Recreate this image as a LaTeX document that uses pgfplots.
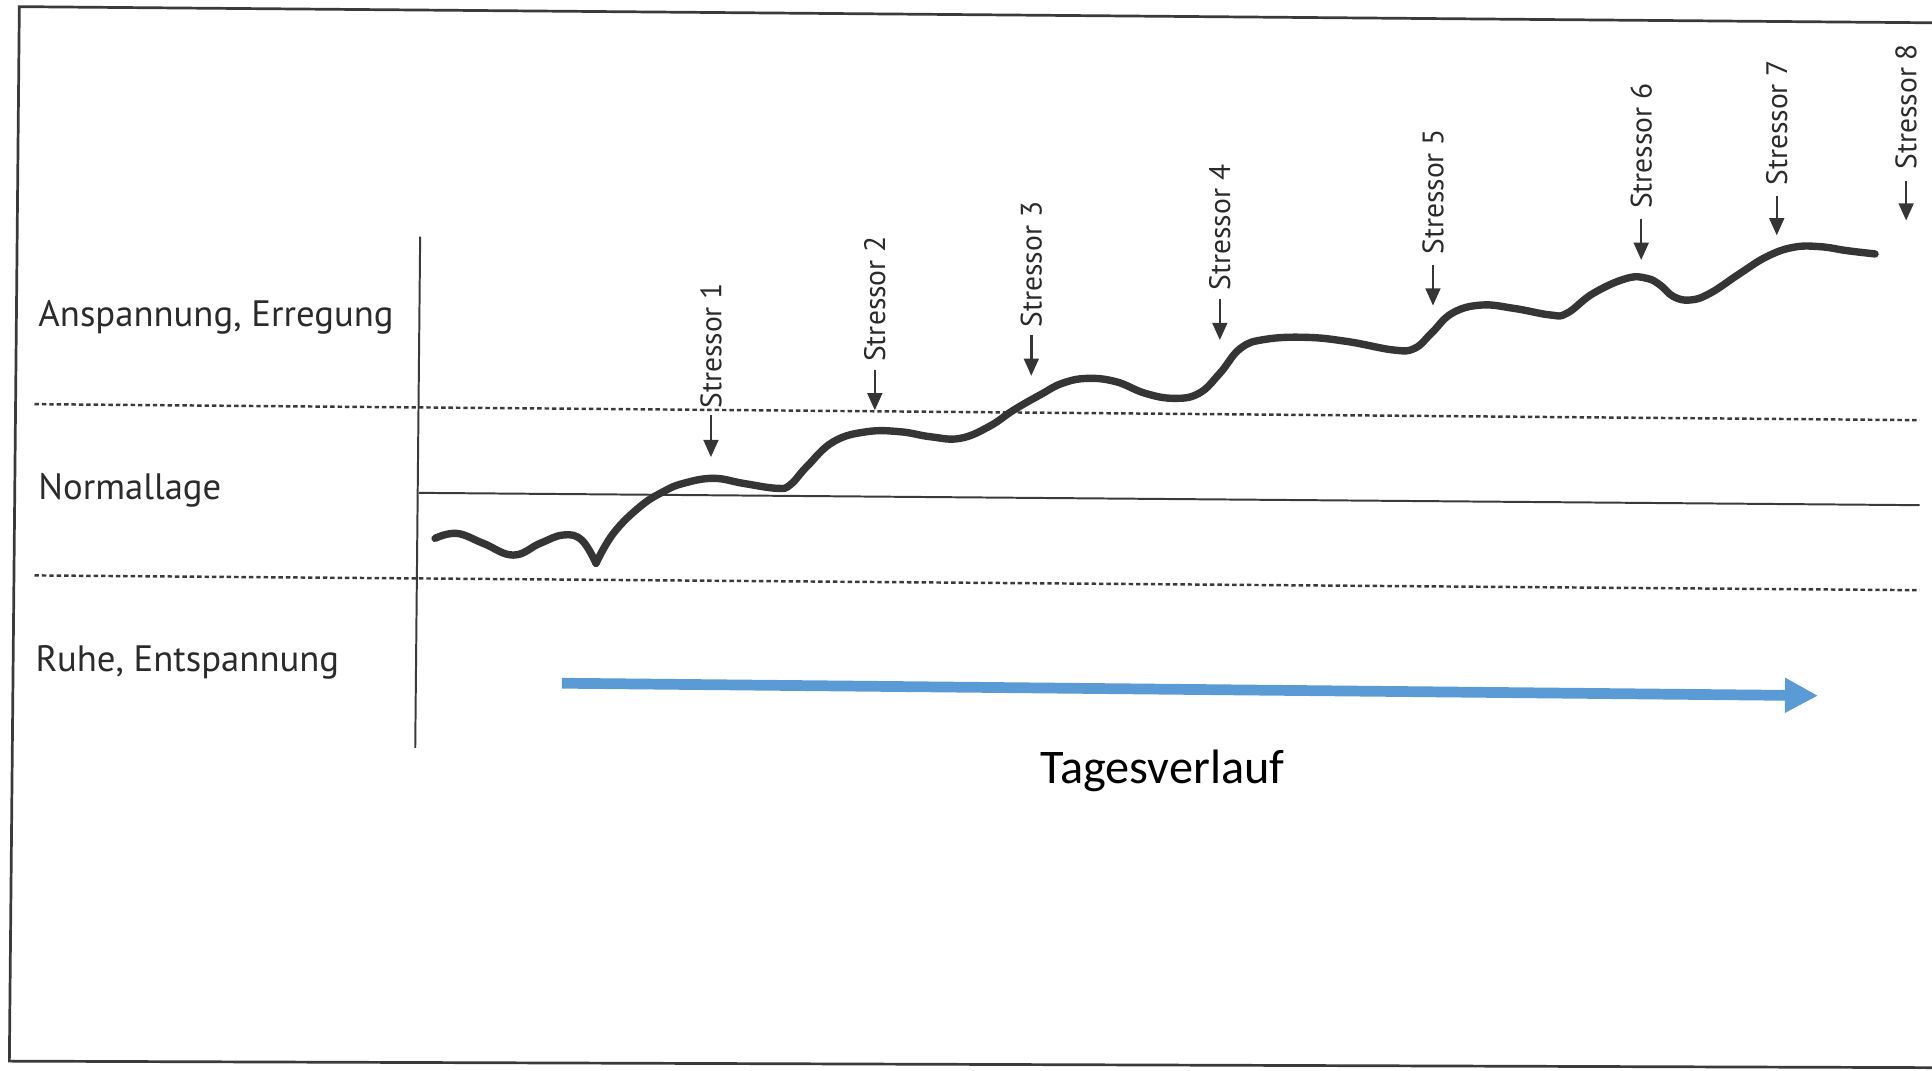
\documentclass[border=0pt]{standalone}
\usepackage{fontspec}
\setmainfont{PT Sans}
\newfontfamily\calib{Carlito}
\usepackage{pgfplots}
\pgfplotsset{compat=1.18}
\usetikzlibrary{arrows.meta}
\definecolor{curvecol}{HTML}{353535}
\definecolor{linecol}{HTML}{3A3A3A}
\definecolor{txtcol}{HTML}{2B2B2B}
\definecolor{bluearrow}{HTML}{5B9BD5}
\begin{document}
\begin{tikzpicture}
\begin{axis}[
  width=784bp, height=434.5bp, scale only axis,
  xmin=0, xmax=1568, ymin=0, ymax=869, y dir=reverse,
  hide axis, clip=false,
]
% frame of the scanned page
\addplot[linecol, line width=1.1bp] coordinates {(1568,18.5) (15.7,5.4) (7.6,861.2) (1568,866.5)};
% vertical axis line
\addplot[linecol, line width=0.8bp] coordinates {(341,192) (337,607)};
% dotted boundaries
\addplot[linecol, line width=1bp, dash pattern=on 1.8bp off 1.2bp] coordinates {(28,328) (1558,341)};
\addplot[linecol, line width=1bp, dash pattern=on 1.8bp off 1.2bp] coordinates {(28,467) (1558,479)};
% normal level line
\addplot[linecol, line width=0.8bp] coordinates {(340,400) (1558,410)};
% stress curve
\addplot[curvecol, line width=3bp, smooth, tension=0.7, line cap=round, line join=round] coordinates {
(353.1,436.9) (370.7,432.9) (392.3,441) (416.6,450.5) (438.3,441) (457.2,434.2) (472.1,438.3) (483.7,457.2)};
\addplot[curvecol, line width=3bp, smooth, tension=0.7, line cap=round, line join=round] coordinates {
(483.7,457.2) (497.8,432.9) (519.4,411.2) (538.4,399) (554.6,392.3) (578.9,388.2) (603.3,392.3) (630.4,396.3)
(641.2,393.6) (654.7,378.8) (676.4,358.5) (703.4,350.4) (730.5,350.4) (755.4,354.5) (779.0,355.8) (802.5,346.3)
(822.7,332.8) (845,320) (862.1,311.1) (882.3,307.1) (905.8,309.8) (929.4,319.2) (952.9,323.3) (973.1,319.2)
(990.0,303.0) (1006.8,282.7) (1027.0,275.4) (1060.6,273.8) (1094.3,277.3) (1131.3,284.1) (1148.1,282.7)
(1161.6,270.6) (1178.4,254.3) (1201.9,247.6) (1228.9,250.3) (1258.1,255.6) (1271.6,254.3) (1293.2,238.0)
(1320.3,225.9) (1336.5,225.9) (1347.3,231.3) (1358.2,240.7) (1371.7,243.5) (1387.9,238.0) (1412.3,221.8)
(1433.9,208.3) (1455.5,200.7) (1477.2,200.2) (1498.8,203.4) (1521.8,206.1)};
% stressor arrows
\pgfplotsset{stressarrow/.style={curvecol, line width=1bp, -{Triangle[length=7bp,width=6bp]}}}
\addplot[stressarrow] coordinates {(577,337) (577,371)};
\addplot[stressarrow] coordinates {(710,300) (710,333)};
\addplot[stressarrow] coordinates {(837,272) (837,305)};
\addplot[stressarrow] coordinates {(990,243) (990,276)};
\addplot[stressarrow] coordinates {(1163,215) (1163,248)};
\addplot[stressarrow] coordinates {(1332,178) (1332,211)};
\addplot[stressarrow] coordinates {(1442,159) (1442,191)};
\addplot[stressarrow] coordinates {(1547,147) (1547,179)};
% stressor labels
\tikzset{slab/.style={rotate=90, anchor=west, inner sep=0pt, text=txtcol, font=\fontsize{12bp}{14bp}\selectfont}}
\node[slab] at (axis cs:577,332) {Stressor 1};
\node[slab] at (axis cs:710,294) {Stressor 2};
\node[slab] at (axis cs:837,266) {Stressor 3};
\node[slab] at (axis cs:990,236) {Stressor 4};
\node[slab] at (axis cs:1163,207) {Stressor 5};
\node[slab] at (axis cs:1332,170) {Stressor 6};
\node[slab] at (axis cs:1442,151) {Stressor 7};
\node[slab] at (axis cs:1547,138) {Stressor 8};
% level labels
\tikzset{llab/.style={anchor=base west, inner sep=0pt, text=txtcol, font=\fontsize{14.9bp}{17bp}\selectfont}}
\node[llab] at (axis cs:30.8,265.1) {Anspannung, Erregung};
\node[llab] at (axis cs:30.8,405.5) {Normallage};
\node[llab] at (axis cs:28.5,545) {Ruhe, Entspannung};
% time arrow
\addplot[bluearrow, line width=4.35bp, -{Triangle[length=13.4bp,width=13.3bp]}] coordinates {(456,554.5) (1475.5,564.6)};
\node[anchor=base west, inner sep=0pt, font=\calib\fontsize{19.6bp}{23bp}\selectfont] at (axis cs:844,635.8) {Tagesverlauf};
\end{axis}
\pgfresetboundingbox
\path[use as bounding box] (current axis.south west) rectangle (current axis.north east);
\end{tikzpicture}
\end{document}
